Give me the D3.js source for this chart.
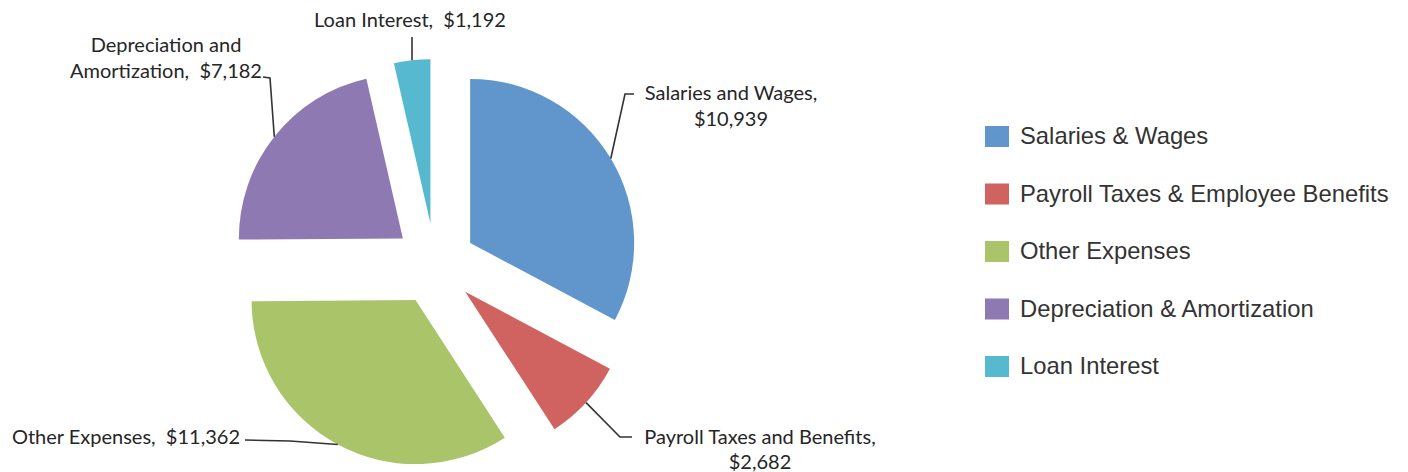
<!DOCTYPE html>
<html>
<head>
<meta charset="utf-8">
<script src="https://cdn.jsdelivr.net/npm/d3@7"></script>
<style>
  body { margin: 0; background: #fff; }
  svg { display: block; }
</style>
</head>
<body>
<div id="chart"></div>
<script>
var chart_width  = 1408;
var chart_height = 472;

// data
var categories   = ['Salaries and Wages', 'Payroll Taxes and Benefits', 'Other Expenses', 'Depreciation and Amortization', 'Loan Interest'];
var values       = [10939, 2682, 11362, 7182, 1192];
var value_labels = ['$10,939', '$2,682', '$11,362', '$7,182', '$1,192'];
var legend_names = ['Salaries & Wages', 'Payroll Taxes & Employee Benefits', 'Other Expenses', 'Depreciation & Amortization', 'Loan Interest'];
var colors       = ['#6096CB', '#D0635F', '#AAC46A', '#8F79B3', '#57B9D0'];

// layout
var cx = 435, cy = 264;
var radius = 164;
var explode = 41;

// label layout: text lines, anchor, text position, leader elbow + leader end
var label_layout = [
    { lines: ['Salaries and Wages,', '$10,939'], anchor: 'middle', x: 731, y: 100, dy: 26,
      elbow: [625, 94], end: [634, 94] },
    { lines: ['Payroll Taxes and Benefits,', '$2,682'], anchor: 'middle', x: 760, y: 444, dy: 25,
      elbow: [620, 437], end: [632, 437] },
    { lines: ['Other Expenses,  $11,362'], anchor: 'end', x: 240, y: 444, dy: 0,
      elbow: [290, 441], end: [245, 440] },
    { lines: ['Depreciation and', 'Amortization,  $7,182'], anchor: 'middle', x: 166, y: 52, dy: 26,
      elbow: [270, 78], end: [263, 77] },
    { lines: ['Loan Interest,  $1,192'], anchor: 'middle', x: 410, y: 27, dy: 0,
      elbow: [412, 38], end: [412, 37] }
];

var svg = d3.select('#chart')
            .append('svg')
            .attr('width', chart_width)
            .attr('height', chart_height);

var pie = d3.pie().sort(null).value((d) => d);
var arcs = pie(values);

var arc = d3.arc().innerRadius(0).outerRadius(radius);

function offset(d, dist) {
    var a = (d.startAngle + d.endAngle) / 2;
    return [Math.sin(a) * dist, -Math.cos(a) * dist];
}

var g = svg.append('g').attr('transform', 'translate(' + cx + ',' + cy + ')');

//Slices
g.selectAll('path.slice')
    .data(arcs)
    .enter()
    .append('path')
    .attr('class', 'slice')
    .attr('d', arc)
    .attr('fill', (d, i) => colors[i])
    .attr('transform', (d) => {
        var o = offset(d, explode);
        return 'translate(' + o[0] + ',' + o[1] + ')';
    });

//Leader lines
svg.selectAll('path.leader')
    .data(arcs)
    .enter()
    .append('path')
    .attr('class', 'leader')
    .attr('fill', 'none')
    .attr('stroke', '#333')
    .attr('stroke-width', 1.6)
    .attr('d', (d, i) => {
        var o = offset(d, explode + radius);
        var l = label_layout[i];
        return 'M' + (cx + o[0]) + ',' + (cy + o[1]) + 'L' + l.elbow[0] + ',' + l.elbow[1] + 'L' + l.end[0] + ',' + l.end[1];
    });

//Data labels
arcs.forEach((d, i) => {
    var l = label_layout[i];
    var t = svg.append('text')
        .attr('x', l.x)
        .attr('y', l.y)
        .attr('text-anchor', l.anchor)
        .attr('font-family', 'Lato, "Open Sans", sans-serif')
        .attr('font-size', 20)
        .attr('fill', '#262626');
    var lines = l.lines;
    lines.forEach((s, j) => {
        t.append('tspan')
            .attr('x', l.x)
            .attr('dy', j === 0 ? 0 : l.dy)
            .attr('xml:space', 'preserve')
            .style('white-space', 'pre')
            .text(s);
    });
});

//Legend
var legend = svg.append('g').attr('transform', 'translate(985,126)');
var items = legend.selectAll('g')
    .data(legend_names)
    .enter()
    .append('g')
    .attr('transform', (d, i) => 'translate(0,' + (i * 57.5) + ')');

items.append('rect')
    .attr('width', 24)
    .attr('height', 21)
    .attr('fill', (d, i) => colors[i]);

items.append('text')
    .attr('x', 35)
    .attr('y', 18)
    .attr('font-family', '"Liberation Sans", Arial, sans-serif')
    .attr('font-size', 23.8)
    .attr('fill', '#333')
    .text((d) => d);
</script>
</body>
</html>
